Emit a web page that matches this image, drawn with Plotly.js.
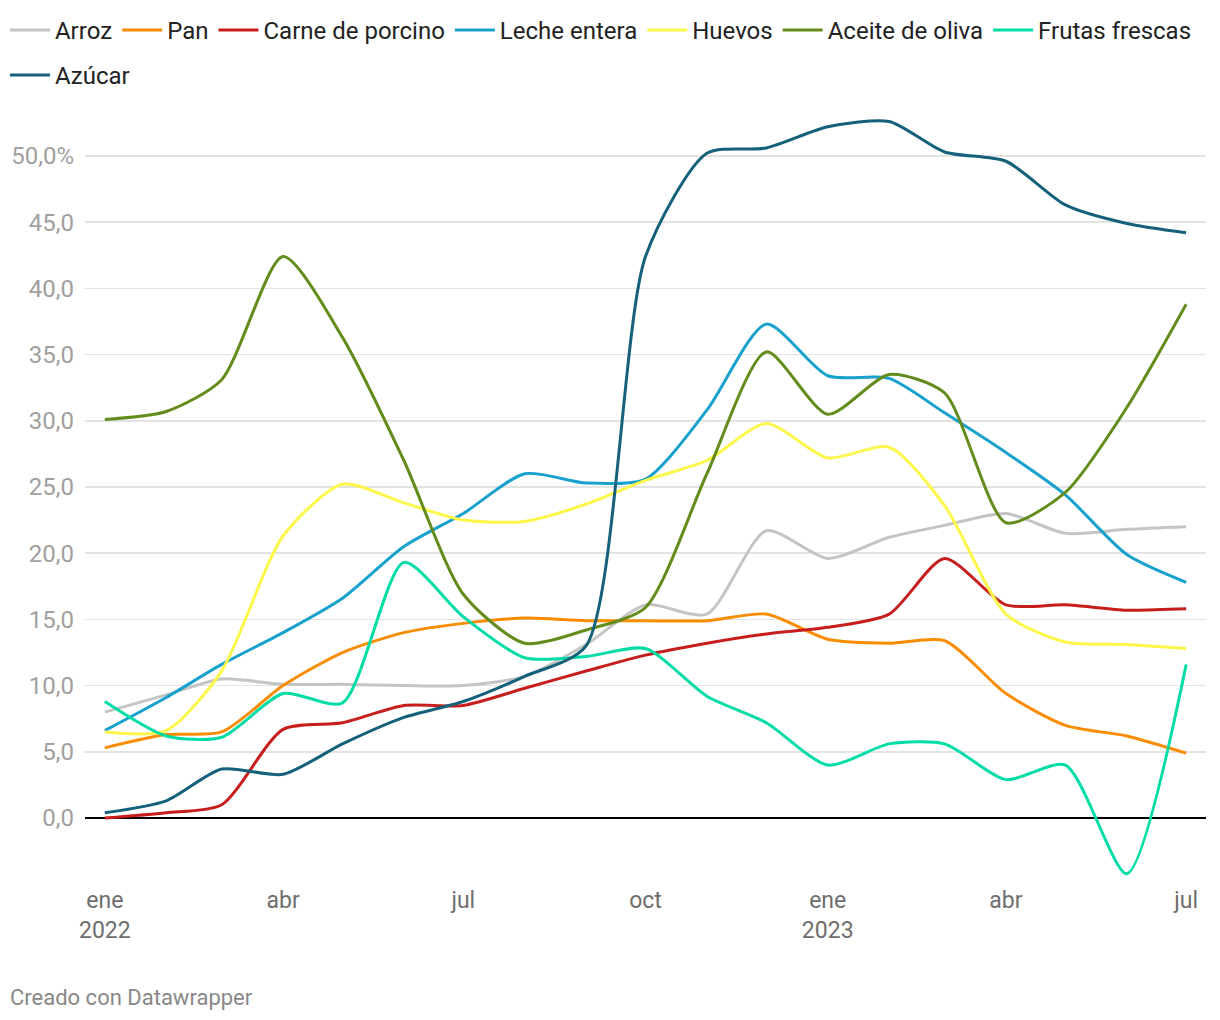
<!DOCTYPE html>
<html>
<head>
<meta charset="utf-8">
<script src="https://cdn.plot.ly/plotly-3.0.1.min.js"></script>
<style>
html,body{margin:0;padding:0;background:#fff;}
#chart{width:1220px;height:1020px;}
</style>
</head>
<body>
<div id="chart"></div>
<script>
const months = ['2022-01-01','2022-02-01','2022-03-01','2022-04-01','2022-05-01','2022-06-01','2022-07-01','2022-08-01','2022-09-01','2022-10-01','2022-11-01','2022-12-01','2023-01-01','2023-02-01','2023-03-01','2023-04-01','2023-05-01','2023-06-01','2023-07-01'];

const arroz  = [8.0, 9.3, 10.5, 10.1, 10.1, 10.0, 10.0, 10.7, 13.1, 16.1, 15.4, 21.7, 19.6, 21.2, 22.1, 23.0, 21.5, 21.8, 22.0];
const pan    = [5.3, 6.3, 6.5, 10.0, 12.5, 14.0, 14.7, 15.1, 14.9, 14.9, 14.9, 15.4, 13.5, 13.2, 13.4, 9.4, 7.0, 6.2, 4.9];
const carne  = [0.0, 0.4, 1.0, 6.7, 7.2, 8.5, 8.5, 9.8, 11.1, 12.3, 13.2, 13.9, 14.4, 15.4, 19.6, 16.1, 16.1, 15.7, 15.8];
const leche  = [6.6, 9.1, 11.6, 14.0, 16.6, 20.5, 23.0, 26.0, 25.3, 25.6, 30.8, 37.3, 33.4, 33.2, 30.6, 27.6, 24.4, 19.9, 17.8];
const huevos = [6.5, 6.6, 11.1, 21.3, 25.2, 23.8, 22.5, 22.4, 23.7, 25.5, 27.0, 29.8, 27.2, 28.0, 23.6, 15.4, 13.3, 13.1, 12.8];
const aceite = [30.1, 30.7, 33.1, 42.4, 36.3, 27.0, 16.9, 13.2, 14.2, 15.9, 26.0, 35.2, 30.5, 33.5, 32.1, 22.3, 24.6, 31.0, 38.8];
const frutas = [8.8, 6.2, 6.1, 9.4, 8.7, 19.3, 15.2, 12.1, 12.2, 12.8, 9.2, 7.2, 4.0, 5.6, 5.6, 2.9, 4.0, -4.2, 11.6];
const azucar = [0.4, 1.3, 3.7, 3.3, 5.6, 7.6, 8.8, 10.7, 13.0, 42.4, 50.2, 50.6, 52.2, 52.6, 50.3, 49.6, 46.3, 44.9, 44.2];

const seriesNames  = ['Arroz','Pan','Carne de porcino','Leche entera','Huevos','Aceite de oliva','Frutas frescas','Azúcar'];
const seriesValues = [arroz, pan, carne, leche, huevos, aceite, frutas, azucar];
const seriesColors = ['#c4c4c4','#fa8c00','#c71e1d','#18a1cd','#fcf74a','#648c1c','#00dca6','#15607a'];
const seriesLegend = ['legend','legend','legend','legend','legend','legend','legend','legend2'];

const xTickVals = ['2022-01-01','2022-04-01','2022-07-01','2022-10-01','2023-01-01','2023-04-01','2023-07-01'];
const xTickText = ['ene<br>2022','abr','jul','oct','ene<br>2023','abr','jul'];
const yTickVals = [0,5,10,15,20,25,30,35,40,45,50];
const yTickText = ['0,0','5,0','10,0','15,0','20,0','25,0','30,0','35,0','40,0','45,0','50,0%'];

const traces = seriesNames.map((name, i) => ({
  type: 'scatter',
  mode: 'lines',
  name: name,
  legend: seriesLegend[i],
  x: months,
  y: seriesValues[i],
  line: {color: seriesColors[i], width: 3, shape: 'spline', smoothing: 0.7},
  hoverinfo: 'x+y+name'
}));

const legendBase = {
  orientation: 'h',
  xref: 'paper', yref: 'paper',
  xanchor: 'left', yanchor: 'top',
  font: {family: 'Roboto, sans-serif', size: 24, color: '#222'},
  itemwidth: 40,
  traceorder: 'normal',
  bgcolor: 'rgba(0,0,0,0)'
};

const layout = {
  width: 1220,
  height: 1020,
  paper_bgcolor: '#ffffff',
  plot_bgcolor: '#ffffff',
  font: {family: 'Roboto, sans-serif', size: 24, color: '#333'},
  margin: {l: 85, r: 14, t: 110, b: 140, autoexpand: false},
  showlegend: true,
  legend: Object.assign({}, legendBase, {x: -0.0714, y: 1.1325}),
  legend2: Object.assign({}, legendBase, {x: -0.0714, y: 1.0740}),
  xaxis: {
    type: 'date',
    range: ['2021-12-22', '2023-07-11'],
    tickmode: 'array',
    tickvals: xTickVals,
    ticktext: xTickText,
    showgrid: false,
    zeroline: false,
    showline: false,
    ticks: '',
    ticklabelstandoff: 4,
    tickfont: {family: 'Roboto, sans-serif', size: 23, color: '#6e6e6e'}
  },
  yaxis: {
    range: [-4.68, 53.47],
    tickmode: 'array',
    tickvals: yTickVals,
    ticktext: yTickText,
    showgrid: true,
    gridcolor: '#e3e3e3',
    gridwidth: 1.5,
    zeroline: true,
    zerolinecolor: '#000000',
    zerolinewidth: 1.5,
    showline: false,
    ticks: '',
    ticklabelstandoff: 10,
    tickfont: {family: 'Roboto, sans-serif', size: 24, color: '#a0a0a0'}
  },
  annotations: [{
    text: 'Creado con Datawrapper',
    xref: 'paper', yref: 'paper',
    x: -0.0687, y: -0.152,
    xanchor: 'left', yanchor: 'middle',
    showarrow: false,
    font: {family: 'Roboto, sans-serif', size: 22, color: '#888888'}
  }]
};

Plotly.newPlot('chart', traces, layout, {displayModeBar: false, staticPlot: true});
</script>
</body>
</html>
